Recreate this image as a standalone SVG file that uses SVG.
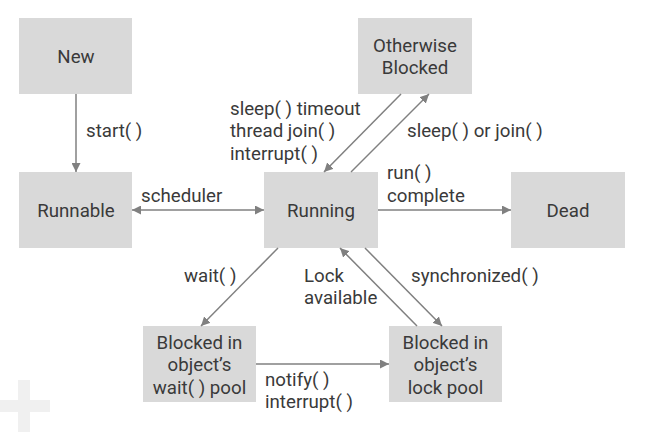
<svg xmlns="http://www.w3.org/2000/svg" width="649" height="443" viewBox="0 0 649 443">
<style>
.box{fill:#d9d9d9}
.t{font-family:Roboto,"Noto Sans",sans-serif;font-size:18.7px;fill:#3a3a3a}
.c{text-anchor:middle}
.ln{stroke:#808080;stroke-width:1.5;fill:none}
</style>
<defs>
<marker id="ah" viewBox="0 0 10 10" refX="10" refY="5" markerWidth="9" markerHeight="9" markerUnits="userSpaceOnUse" orient="auto-start-reverse">
<path d="M0,0 L10,5 L0,10 z" fill="#808080"/>
</marker>
</defs>
<rect x="18" y="380" width="12" height="52" fill="#f0f0f0"/>
<rect x="0" y="400" width="50" height="12" fill="#f0f0f0"/>
<g id="node-new"><rect class="box" x="19" y="18" width="113" height="76"/><text class="t c" x="76" y="63">New</text></g>
<g id="node-otherwise"><rect class="box" x="358" y="18" width="114" height="76"/><text class="t c" x="415" y="52">Otherwise</text><text class="t c" x="415" y="74">Blocked</text></g>
<g id="node-runnable"><rect class="box" x="19" y="172" width="113" height="76"/><text class="t c" x="76" y="217">Runnable</text></g>
<g id="node-running"><rect class="box" x="264" y="172" width="114" height="76"/><text class="t c" x="321" y="217">Running</text></g>
<g id="node-dead"><rect class="box" x="511" y="172" width="114" height="76"/><text class="t c" x="568" y="217">Dead</text></g>
<g id="node-waitpool"><rect class="box" x="143" y="326" width="113" height="76"/><text class="t c" x="199.5" y="349">Blocked in</text><text class="t c" x="199.5" y="371">object’s</text><text class="t c" x="199.5" y="394">wait( ) pool</text></g>
<g id="node-lockpool"><rect class="box" x="389" y="326" width="113" height="76"/><text class="t c" x="445.5" y="349">Blocked in</text><text class="t c" x="445.5" y="371">object’s</text><text class="t c" x="445.5" y="394">lock pool</text></g>
<g id="connectors">
<line class="ln" x1="76" y1="94" x2="76" y2="172" marker-end="url(#ah)"/>
<line class="ln" x1="132" y1="210" x2="264" y2="210" marker-start="url(#ah)" marker-end="url(#ah)"/>
<line class="ln" x1="378" y1="210" x2="511" y2="210" marker-end="url(#ah)"/>
<line class="ln" x1="401" y1="94" x2="324" y2="172" marker-end="url(#ah)"/>
<line class="ln" x1="351" y1="172" x2="429" y2="94" marker-end="url(#ah)"/>
<line class="ln" x1="278" y1="248" x2="201" y2="326" marker-end="url(#ah)"/>
<line class="ln" x1="417" y1="326" x2="340" y2="248" marker-end="url(#ah)"/>
<line class="ln" x1="365" y1="248" x2="442" y2="326" marker-end="url(#ah)"/>
<line class="ln" x1="256" y1="364" x2="389" y2="364" marker-end="url(#ah)"/>
</g>
<g id="labels">
<text class="t" x="86" y="137">start( )</text>
<text class="t" x="230" y="115">sleep( ) timeout</text>
<text class="t" x="230" y="137">thread join( )</text>
<text class="t" x="230" y="160">interrupt( )</text>
<text class="t" x="407" y="137">sleep( ) or join( )</text>
<text class="t" x="141" y="202">scheduler</text>
<text class="t" x="387" y="179">run( )</text>
<text class="t" x="387" y="202">complete</text>
<text class="t" x="184" y="282">wait( )</text>
<text class="t" x="304" y="282">Lock</text>
<text class="t" x="304" y="304">available</text>
<text class="t" x="411" y="282">synchronized( )</text>
<text class="t" x="265" y="386">notify( )</text>
<text class="t" x="265" y="408">interrupt( )</text>
</g>
</svg>
